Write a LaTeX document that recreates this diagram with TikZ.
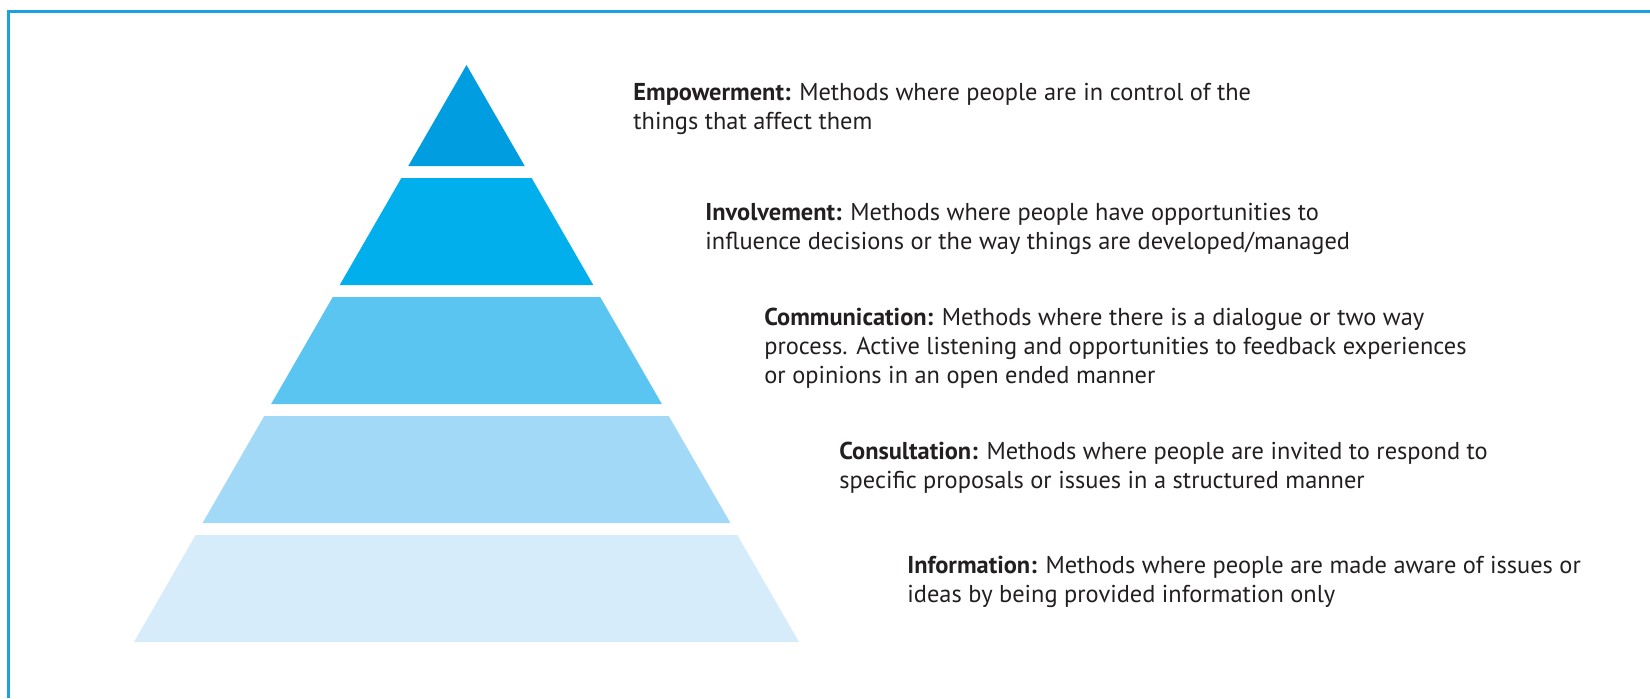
\documentclass[tikz,border=0pt]{standalone}
\usepackage{fontspec}
\setmainfont{PT Sans}
\definecolor{framecol}{RGB}{27,161,226}
\definecolor{textcol}{RGB}{35,31,32}
\definecolor{tierA}{RGB}{0,158,224}
\definecolor{tierB}{RGB}{0,175,236}
\definecolor{tierC}{RGB}{91,197,242}
\definecolor{tierD}{RGB}{162,217,247}
\definecolor{tierE}{RGB}{214,236,251}
\begin{document}
\begin{tikzpicture}[x=0.5pt,y=-0.5pt]
    \tikzstyle{note}=[anchor=base west,inner sep=0pt,align=left,text=textcol,font=\fontsize{12.2}{14.5}\selectfont];
    \useasboundingbox (0,0) rectangle (1650,698);
    \draw[framecol,line width=1.5pt] (8.5,698) |- (1650,11.5);

    % pyramid
    \fill[tierA] (466.5,65) -- (524.7,166) -- (408.3,166) -- cycle;
    \foreach \t/\b/\c in {178/285/tierB, 297/404/tierC, 416/523/tierD, 535/642/tierE}{
        \fill[\c] ({466.5-(\t-65)*0.5763},\t) -- ({466.5+(\t-65)*0.5763},\t)
            -- ({466.5+(\b-65)*0.5763},\b) -- ({466.5-(\b-65)*0.5763},\b) -- cycle;
    }

    % labels (base = last line)
    \node (empow) [note] at (633,129) {\textbf{Empowerment:} Methods where people are in control of the\\things that affect them};
    \node (invol) [note] at (705,249) {\textbf{Involvement:} Methods where people have opportunities to\\influence decisions or the way things are developed/managed};
    \node (commu) [note] at (764,383) {\textbf{Communication:} Methods where there is a dialogue or two way\\process. Active listening and opportunities to feedback experiences\\or opinions in an open ended manner};
    \node (consu) [note] at (839,488) {\textbf{Consultation:} Methods where people are invited to respond to\\specific proposals or issues in a structured manner};
    \node (infor) [note] at (907,602) {\textbf{Information:} Methods where people are made aware of issues or\\ideas by being provided information only};
\end{tikzpicture}
\end{document}
